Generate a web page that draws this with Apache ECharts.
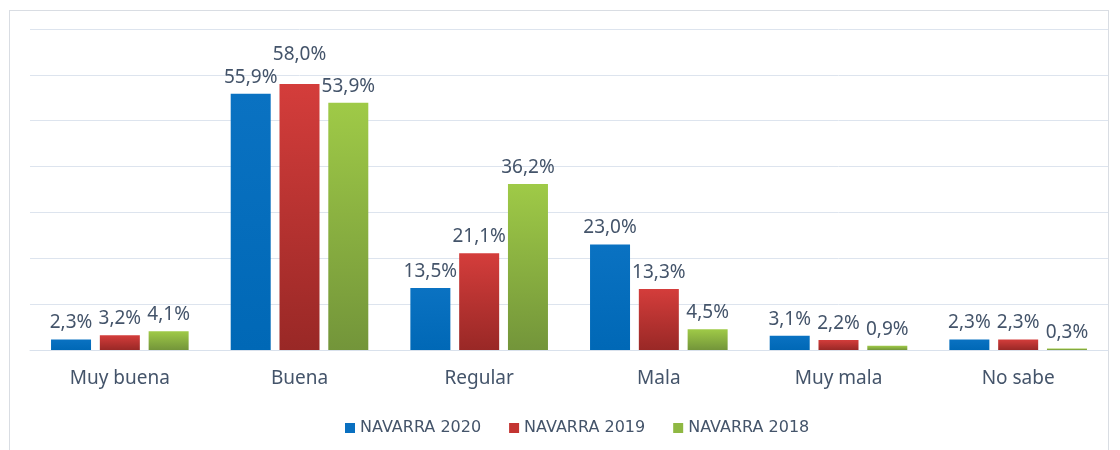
<!DOCTYPE html>
<html>
<head>
    <meta charset="utf-8">
    <title>Navarra</title>
    <script src="https://cdn.jsdelivr.net/npm/echarts@6/dist/echarts.min.js"></script>
    <style>
        body { margin: 0; background: #fff; }
        #frame { position: absolute; left: 9px; top: 10px; width: 1100px; height: 450px; border: 1px solid #d9dde3; box-sizing: border-box; }
        #main { position: absolute; left: 0; top: 0; width: 1120px; height: 450px; }
    </style>
</head>
<body>
<div id="frame"></div>
<div id="main"></div>
<script type="text/javascript">
    var categories = ['Muy buena', 'Buena', 'Regular', 'Mala', 'Muy mala', 'No sabe'];
    var seriesNames = ['NAVARRA 2020', 'NAVARRA 2019', 'NAVARRA 2018'];
    var navarra2020 = [2.3, 55.9, 13.5, 23.0, 3.1, 2.3];
    var navarra2019 = [3.2, 58.0, 21.1, 13.3, 2.2, 2.3];
    var navarra2018 = [4.1, 53.9, 36.2, 4.5, 0.9, 0.3];

    var myChart = echarts.init(document.getElementById('main'));

    function grad(top, bottom) {
        return new echarts.graphic.LinearGradient(0, 0, 0, 1, [
            { offset: 0, color: top },
            { offset: 1, color: bottom }
        ]);
    }

    var colors = [
        grad('#0a72c2', '#0068b6'),
        grad('#d43d3b', '#992826'),
        grad('#9fca47', '#73953a')
    ];
    var legendColors = ['#0a70c0', '#c33431', '#8fb843'];
    var allValues = [navarra2020, navarra2019, navarra2018];

    var series = allValues.map(function (vals, i) {
        return {
            name: seriesNames[i],
            type: 'bar',
            barWidth: 40,
            barGap: '22%',
            itemStyle: { color: colors[i] },
            label: {
                show: true,
                position: 'top',
                distance: 7,
                color: '#44546a',
                fontSize: 19,
                fontFamily: 'Noto Sans',
                formatter: function (p) {
                    return p.value.toFixed(1).replace('.', ',') + '%';
                }
            },
            data: vals.slice()
        };
    });
    // en el original la etiqueta 58,0% va desplazada hacia arriba
    series[1].data[1] = { value: navarra2019[1], label: { distance: 20 } };

    var option = {
        backgroundColor: 'transparent',
        animation: false,
        color: legendColors,
        grid: { left: 30, right: 12, top: 29, bottom: 100 },
        legend: {
            bottom: 9,
            left: 340,
            itemWidth: 10,
            itemHeight: 10,
            itemGap: 28,
            icon: 'rect',
            textStyle: { color: '#44546a', fontSize: 16, fontFamily: 'DejaVu Sans' },
            data: seriesNames.map(function (n, i) {
                return { name: n, itemStyle: { color: legendColors[i] } };
            })
        },
        xAxis: {
            type: 'category',
            data: categories,
            axisLine: { lineStyle: { color: '#d9e1ec' } },
            axisTick: { show: false },
            axisLabel: { color: '#44546a', fontSize: 19, fontFamily: 'Noto Sans', margin: 19 }
        },
        yAxis: {
            type: 'value',
            min: 0,
            max: 70,
            interval: 10,
            axisLabel: { show: false },
            splitLine: { lineStyle: { color: '#dde4ee' } }
        },
        series: series
    };

    myChart.setOption(option);
</script>
</body>
</html>
